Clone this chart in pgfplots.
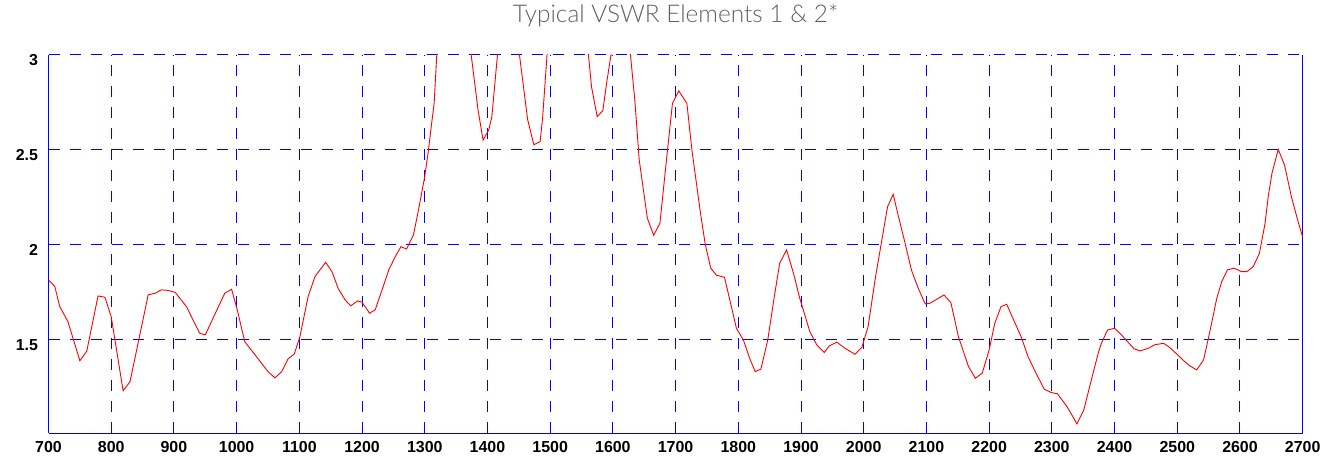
\documentclass[border=0pt]{standalone}
\usepackage{fontspec}
\setmainfont{Liberation Sans}
\newfontfamily\titlefont{Lato Light}
\usepackage{pgfplots}
\pgfplotsset{compat=1.18}
\definecolor{gridblue}{RGB}{0,0,255}
\pgfplotstableread{
x y
700 1.815
710 1.781
718 1.675
731 1.596
750 1.39
761 1.44
779 1.731
790 1.724
800 1.622
819 1.232
830 1.28
859 1.737
870 1.745
880 1.763
891 1.76
902 1.75
920 1.675
941 1.535
950 1.526
981 1.745
992 1.766
1001 1.658
1013 1.49
1032 1.41
1050 1.333
1061 1.30
1072 1.333
1082 1.40
1092 1.426
1101 1.518
1114 1.728
1125 1.833
1142 1.908
1152 1.859
1162 1.77
1173 1.71
1182 1.679
1193 1.705
1200 1.698
1212 1.64
1221 1.658
1231 1.754
1243 1.871
1253 1.938
1262 1.99
1271 1.978
1282 2.052
1290 2.183
1300 2.359
1306 2.50
1311 2.64
1315 2.744
1319 2.99
1325 3.4
1340 3.9
1355 3.7
1365 3.25
1374 3.0
1385 2.709
1393 2.551
1402 2.604
1407 2.674
1416 3.0
1425 3.3
1440 3.5
1451 3.0
1464 2.66
1474 2.526
1484 2.543
1488 2.67
1495 3.0
1505 3.4
1530 3.7
1550 3.4
1561 3.0
1566 2.83
1575 2.674
1584 2.706
1590 2.85
1597 3.0
1605 3.3
1620 3.3
1628 3.0
1635 2.76
1642 2.446
1655 2.14
1665 2.05
1675 2.113
1686 2.464
1695 2.744
1705 2.81
1718 2.744
1726 2.499
1739 2.183
1747 2.008
1756 1.877
1765 1.84
1778 1.829
1797 1.561
1808 1.5
1819 1.395
1827 1.333
1836 1.346
1847 1.50
1857 1.719
1866 1.903
1877 1.973
1888 1.85
1898 1.719
1914 1.544
1925 1.474
1937 1.433
1945 1.468
1957 1.488
1970 1.456
1986 1.424
1997 1.46
2007 1.57
2018 1.815
2028 2.008
2038 2.2
2047 2.266
2056 2.14
2066 2.008
2076 1.868
2087 1.771
2098 1.689
2106 1.693
2119 1.719
2128 1.736
2139 1.696
2151 1.517
2167 1.36
2178 1.298
2189 1.325
2200 1.447
2209 1.587
2219 1.675
2228 1.687
2239 1.605
2251 1.517
2262 1.412
2276 1.316
2288 1.24
2299 1.223
2309 1.216
2324 1.15
2340 1.058
2351 1.132
2363 1.29
2374 1.43
2379 1.483
2389 1.552
2400 1.561
2411 1.526
2422 1.486
2431 1.453
2441 1.442
2454 1.456
2464 1.474
2478 1.482
2488 1.46
2499 1.426
2510 1.391
2520 1.363
2531 1.342
2542 1.395
2552 1.544
2563 1.719
2571 1.807
2580 1.868
2591 1.877
2602 1.859
2611 1.859
2621 1.885
2631 1.955
2640 2.113
2645 2.253
2651 2.376
2661 2.502
2671 2.42
2682 2.253
2692 2.13
2700 2.04
}\vswr
\begin{document}
\begin{tikzpicture}
\useasboundingbox (0,0) rectangle (1325bp,461bp);
\begin{axis}[
  at={(48.5bp,28bp)}, anchor=south west,
  scale only axis, width=1254.2bp, height=378.3bp,
  xmin=700, xmax=2700, ymin=1.01, ymax=3,
  xtick={700,800,...,2700},
  ytick={1.5,2,2.5,3},
  yticklabels={1.5,2,2.5,3},
  /pgf/number format/1000 sep={},
  /pgf/number format/assume math mode=true,
  axis x line*=bottom, axis y line*=box,
  x axis line style={-, color=gridblue, line width=1bp},
  y axis line style={-, color=gridblue, line width=1bp},
  major tick length=0pt,
  grid=major,
  every axis grid/.style={color=gridblue, line width=1bp, dash pattern=on 11bp off 10bp},
  major grid style={color=gridblue, line width=1bp, dash pattern=on 11bp off 10bp},
  ticklabel style={font=\bfseries\fontsize{16}{18}\selectfont, text=black},
  xticklabel style={anchor=north, yshift=-4.5bp},
  yticklabel style={anchor=east, xshift=-7bp, yshift=-5bp},
]
\addplot[red, line width=0.9bp] table[x=x,y=y] {\vswr};
\end{axis}
\node[anchor=base, text=black!62, font=\titlefont\fontsize{24.5}{28}\selectfont] at (675.6bp,438bp) {Typical VSWR Elements 1 \& 2*};
\end{tikzpicture}
\end{document}
